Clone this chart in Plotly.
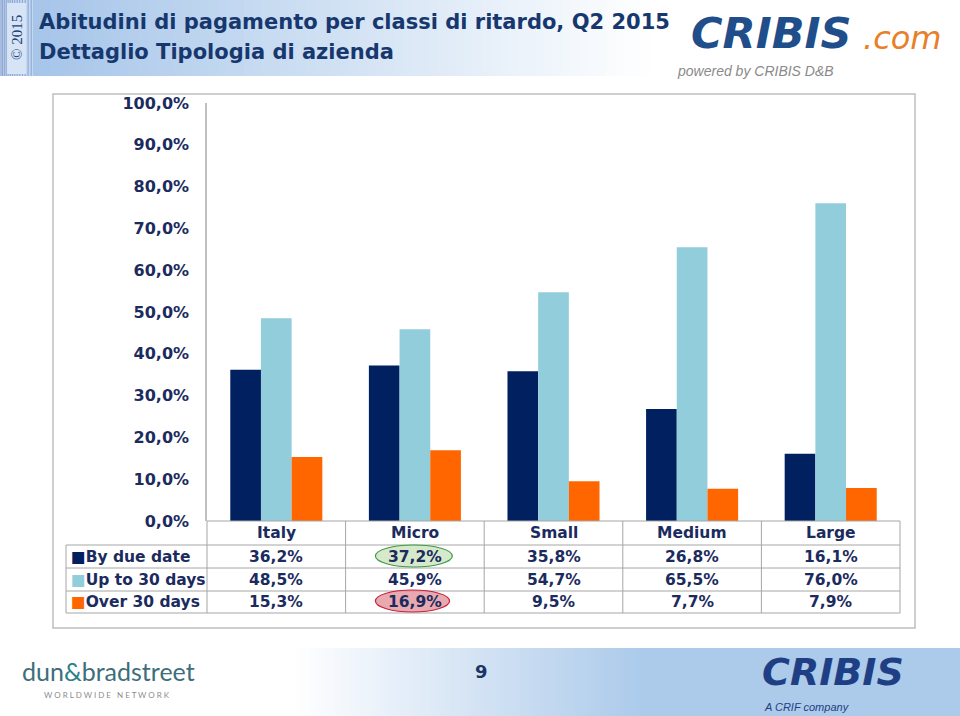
import plotly.graph_objects as go

categories = ["Italy", "Micro", "Small", "Medium", "Large"]
series_names = ["By due date", "Up to 30 days", "Over 30 days"]
by_due_date = [36.2, 37.2, 35.8, 26.8, 16.1]
up_to_30 = [48.5, 45.9, 54.7, 65.5, 76.0]
over_30 = [15.3, 16.9, 9.5, 7.7, 7.9]
series_values = [by_due_date, up_to_30, over_30]
series_colors = ["#002060", "#92CDDC", "#FF6600"]
y_tick_values = [0, 10, 20, 30, 40, 50, 60, 70, 80, 90, 100]
y_tick_labels = ["0,0%", "10,0%", "20,0%", "30,0%", "40,0%", "50,0%",
                 "60,0%", "70,0%", "80,0%", "90,0%", "100,0%"]

title_line1 = "Abitudini di pagamento per classi di ritardo, Q2 2015"
title_line2 = "Dettaglio Tipologia di azienda"
page_number = "9"

W_PX, H_PX = 960, 716
L, R, T, B = 207, 900, 103, 521
PW, PH = R - L, B - T

def px(x):
    return (x - L) / PW

def py(y):
    return (B - y) / PH

FONT = "DejaVu Sans"
NAVY = "#1B2B5E"
GRID = "#A6A6A6"

def fmt(v):
    return f"{v:.1f}".replace(".", ",") + "%"

fig = go.Figure()
for name, vals, col in zip(series_names, series_values, series_colors):
    fig.add_trace(go.Bar(x=categories, y=vals, name=name, marker_color=col,
                         marker_line_width=0, showlegend=False, hoverinfo="skip"))

shapes = []
annotations = []

def lerp(c1, c2, t):
    return "rgb(%d,%d,%d)" % tuple(round(a + (b - a) * t) for a, b in zip(c1, c2))

# ---- header banner gradient ----
blue = (166, 197, 233)
white = (255, 255, 255)
n = 70
x_start, x_end = 32, 650
for i in range(n):
    x0 = x_start + (x_end - x_start) * i / n
    x1 = x_start + (x_end - x_start) * (i + 1) / n + 0.8
    shapes.append(dict(type="rect", xref="paper", yref="paper", x0=px(x0), x1=px(x1),
                       y0=py(76), y1=py(0), fillcolor=lerp(blue, white, i / n), line_width=0, layer="below"))
# left stripes
shapes.append(dict(type="rect", xref="paper", yref="paper", x0=px(0), x1=px(33), y0=py(76), y1=py(0),
                   fillcolor="rgb(196,216,240)", line_width=0, layer="below"))
sx = 1.0
gap = 1.6
while sx < 33:
    shapes.append(dict(type="line", xref="paper", yref="paper", x0=px(sx), x1=px(sx), y0=py(76), y1=py(0),
                       line=dict(color="rgb(120,150,200)", width=0.8), layer="below"))
    sx += gap
    gap += 0.12
shapes.append(dict(type="rect", xref="paper", yref="paper", x0=px(7), x1=px(26), y0=py(74), y1=py(3),
                   fillcolor="rgb(214,228,245)", line_width=0, layer="below"))

# ---- footer gradient ----
fx0, fx1 = 290, 640
for i in range(n):
    x0 = fx0 + (fx1 - fx0) * i / n
    x1 = fx0 + (fx1 - fx0) * (i + 1) / n + 0.8
    shapes.append(dict(type="rect", xref="paper", yref="paper", x0=px(x0), x1=px(x1),
                       y0=py(716), y1=py(648), fillcolor=lerp(white, (172, 202, 234), i / n), line_width=0, layer="below"))
shapes.append(dict(type="rect", xref="paper", yref="paper", x0=px(fx1), x1=px(960), y0=py(716), y1=py(648),
                   fillcolor="rgb(172,202,234)", line_width=0, layer="below"))

# ---- chart frame ----
shapes.append(dict(type="rect", xref="paper", yref="paper", x0=px(53), x1=px(915), y0=py(628), y1=py(94),
                   fillcolor="white", line=dict(color="#BFBFBF", width=1.5), layer="below"))

# ---- table grid ----
line_style = dict(color=GRID, width=1)
shapes.append(dict(type="line", xref="paper", yref="paper", x0=px(207), x1=px(900), y0=py(521), y1=py(521), line=line_style))
for yl in [545, 568, 591, 613]:
    shapes.append(dict(type="line", xref="paper", yref="paper", x0=px(66), x1=px(900), y0=py(yl), y1=py(yl), line=line_style))
shapes.append(dict(type="line", xref="paper", yref="paper", x0=px(66), x1=px(66), y0=py(545), y1=py(613), line=line_style))
for k in range(len(categories) + 1):
    xk = L + PW * k / len(categories)
    shapes.append(dict(type="line", xref="paper", yref="paper", x0=px(xk), x1=px(xk), y0=py(521), y1=py(613), line=line_style))

# highlight ellipses (Micro column)
shapes.append(dict(type="circle", xref="x", yref="paper", x0=1 - 0.285, x1=1 + 0.27, y0=py(567), y1=py(545),
                   fillcolor="rgba(200,225,185,0.75)", line=dict(color="#3E9A48", width=1.2)))
shapes.append(dict(type="circle", xref="x", yref="paper", x0=1 - 0.285, x1=1 + 0.25, y0=py(612), y1=py(590),
                   fillcolor="rgba(226,140,150,0.75)", line=dict(color="#C8203A", width=1.2)))

# ---- table texts ----
tfont = dict(family=FONT, size=15.5, color=NAVY)
row_y = [556.5, 579.5, 602]
for cat in categories:
    annotations.append(dict(x=cat, xref="x", y=py(533), yref="paper", text="<b>%s</b>" % cat,
                            showarrow=False, font=tfont, xanchor="center", yanchor="middle"))
for name, vals, col, yy in zip(series_names, series_values, series_colors, row_y):
    annotations.append(dict(x=px(69), xref="paper", y=py(yy), yref="paper",
                            text="<span style='color:%s'>■</span><b>%s</b>" % (col, name),
                            showarrow=False, font=tfont, xanchor="left", yanchor="middle"))
    for cat, v in zip(categories, vals):
        annotations.append(dict(x=cat, xref="x", y=py(yy), yref="paper", text="<b>%s</b>" % fmt(v),
                                showarrow=False, font=tfont, xanchor="center", yanchor="middle"))

# ---- titles ----
annotations.append(dict(x=px(37), y=py(22), xref="paper", yref="paper", text="<b>%s</b>" % title_line1,
                        showarrow=False, xanchor="left", yanchor="middle",
                        font=dict(family=FONT, size=21, color="#17386E")))
annotations.append(dict(x=px(37), y=py(52), xref="paper", yref="paper", text="<b>%s</b>" % title_line2,
                        showarrow=False, xanchor="left", yanchor="middle",
                        font=dict(family=FONT, size=21, color="#17386E")))
annotations.append(dict(x=px(17), y=py(38), xref="paper", yref="paper", text="© 2015", textangle=-90,
                        showarrow=False, xanchor="center", yanchor="middle",
                        font=dict(family="Liberation Serif", size=15, color="#1D3F78")))

# ---- header logo ----
annotations.append(dict(x=px(690), y=py(33), xref="paper", yref="paper", borderpad=0,
                        text="<b><i>CRIBIS</i></b>", showarrow=False, xanchor="left", yanchor="middle",
                        font=dict(family="DejaVu Sans", size=43, color="#1F4E8A")))
annotations.append(dict(x=px(862), y=py(38), xref="paper", yref="paper", borderpad=0,
                        text="<i>.com</i>", showarrow=False, xanchor="left", yanchor="middle",
                        font=dict(family="DejaVu Sans", size=32, color="#E8802A")))
annotations.append(dict(x=px(676), y=py(71), xref="paper", yref="paper", borderpad=0,
                        text="<i>powered by CRIBIS D&B</i>", showarrow=False, xanchor="left", yanchor="middle",
                        font=dict(family="Liberation Sans", size=14, color="#8A8A8A")))

# ---- footer ----
annotations.append(dict(x=px(20), y=py(671), xref="paper", yref="paper",
                        text="dun<span style='color:#2F7F8A'>&</span>bradstreet", showarrow=False,
                        xanchor="left", yanchor="middle",
                        font=dict(family="Lato", size=25, color="#3D6E7A")))
annotations.append(dict(x=px(107), y=py(695), xref="paper", yref="paper",
                        text="W O R L D W I D E   N E T W O R K", showarrow=False,
                        xanchor="center", yanchor="middle",
                        font=dict(family="Lato", size=8, color="#8C8C8C")))
annotations.append(dict(x=px(481), y=py(671), xref="paper", yref="paper", text="<b>%s</b>" % page_number,
                        showarrow=False, xanchor="center", yanchor="middle",
                        font=dict(family=FONT, size=18, color="#1B3466")))
annotations.append(dict(x=px(760), y=py(672), xref="paper", yref="paper",
                        text="<b><i>CRIBIS</i></b>", showarrow=False, xanchor="left", yanchor="middle",
                        font=dict(family="DejaVu Sans", size=38, color="#1F3F85")))
annotations.append(dict(x=px(762), y=py(707), xref="paper", yref="paper",
                        text="<i>A CRIF company</i>", showarrow=False,
                        xanchor="left", yanchor="middle",
                        font=dict(family="Liberation Sans", size=11, color="#1F3F85")))

fig.update_layout(
    width=W_PX, height=H_PX,
    margin=dict(l=L, r=W_PX - R, t=T, b=H_PX - B, pad=0),
    paper_bgcolor="white", plot_bgcolor="rgba(0,0,0,0)",
    barmode="group", bargap=0.336, bargroupgap=0,
    shapes=shapes, annotations=annotations,
    showlegend=False,
    xaxis=dict(showticklabels=False, showgrid=False, zeroline=False, showline=False, ticks=""),
    yaxis=dict(range=[0, 100], tickvals=y_tick_values, ticktext=y_tick_labels,
               showgrid=False, zeroline=False,
               showline=True, linecolor="#BFBFBF", linewidth=1.5,
               ticks="outside", ticklen=13, tickcolor="rgba(0,0,0,0)",
               tickfont=dict(family=FONT, size=16, color=NAVY, weight="bold")),
)

fig.write_html("out.html", config={"displayModeBar": False},
               post_script="document.body.style.margin='0';")
